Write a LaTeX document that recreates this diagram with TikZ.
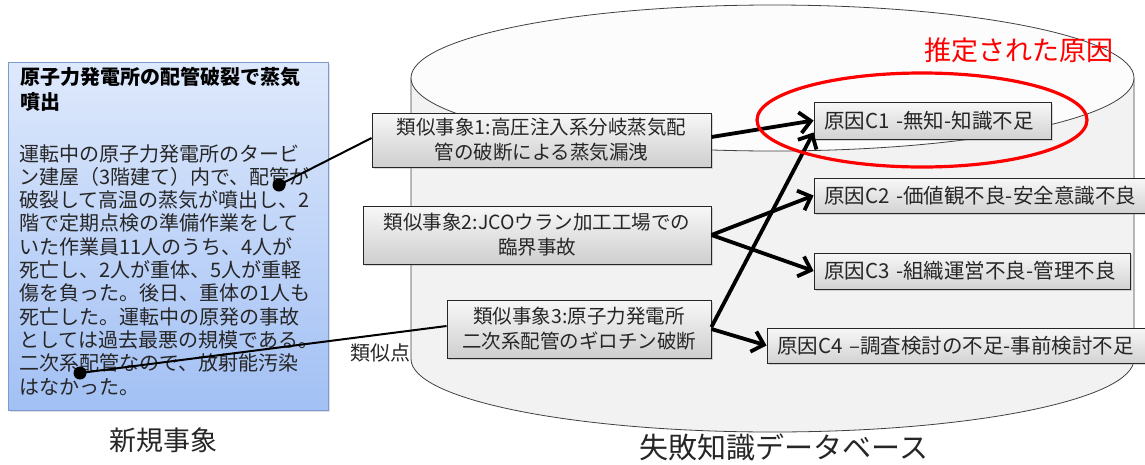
\documentclass[tikz,border=0pt]{standalone}
\usepackage{fontspec}
\setmainfont{Noto Sans CJK JP}
\usetikzlibrary{arrows.meta,shadows,calc}
\definecolor{txt}{HTML}{262626}
\definecolor{cylbody}{HTML}{F2F2F2}
\definecolor{cyltop}{HTML}{FCFCFC}
\definecolor{cylline}{HTML}{404040}
\definecolor{bluetop}{HTML}{DEE9FC}
\definecolor{bluebot}{HTML}{A2C0F4}
\definecolor{blueline}{HTML}{7C9CCF}
\begin{document}
\begin{tikzpicture}[x=1pt,y=-1pt,
  evtbox/.style={draw=black!85, line width=0.9pt, top color=gray!6, bottom color=gray!38,
    drop shadow={opacity=0.3, shadow xshift=2pt, shadow yshift=-2pt},
    align=center, inner sep=0pt, text=txt, font=\fontsize{19.5}{25}\selectfont},
  causebox/.style={draw=black!85, line width=0.9pt, top color=gray!6, bottom color=gray!35,
    drop shadow={opacity=0.3, shadow xshift=2pt, shadow yshift=-2pt},
    align=left, inner xsep=10pt, inner ysep=0pt, text=txt, font=\fontsize{20.5}{24}\selectfont},
  arr/.style={line width=3.8pt, -{Straight Barb[length=11pt,width=21pt]}},
  conn/.style={line width=2pt, black},
  dot/.style={fill=black}
]
\useasboundingbox (0,0) rectangle (1145,464);

% cylinder body
\fill[cylbody] (411,78) -- (411,359) arc[start angle=180,end angle=360,x radius=361.5pt,y radius=73pt] -- (1134,78) -- cycle;
\draw[cylline, line width=0.8pt] (411,78) -- (411,359) arc[start angle=180,end angle=360,x radius=361.5pt,y radius=73pt] -- (1134,78);
\draw[cylline, line width=0.8pt, fill=cyltop] (772.5,78) ellipse [x radius=361.5pt, y radius=73pt];

% new event box
\node[draw=blueline, line width=0.9pt, top color=bluetop, bottom color=bluebot,
  drop shadow={opacity=0.25, shadow xshift=2pt, shadow yshift=-2pt},
  minimum width=320pt, minimum height=348pt, inner sep=0pt] (nb) at (168,236) {};
\node[anchor=north west, align=left, inner sep=0pt, text=black,
  font=\fontsize{20}{25}\selectfont\bfseries] (nbt) at (20,67)
  {原子力発電所の配管破裂で蒸気\\噴出};
\node[anchor=north west, align=left, inner sep=0pt, text=txt,
  font=\fontsize{20}{23.3}\selectfont] (nbb) at (19,144)
  {運転中の原子力発電所のタービ\\
ン建屋（3階建て）内で、配管が\\
破裂して高温の蒸気が噴出し、2\\
階で定期点検の準備作業をして\\
いた作業員11人のうち、4人が\\
死亡し、2人が重体、5人が重軽\\
傷を負った。後日、重体の1人も\\
死亡した。運転中の原発の事故\\
としては過去最悪の規模である。\\
二次系配管なので、放射能汚染\\
はなかった。};

\node[text=txt, font=\fontsize{27}{30}\selectfont, inner sep=0pt] (lnew) at (163,440) {新規事象};
\node[text=txt, font=\fontsize{29}{32}\selectfont, inner sep=0pt] (ldb) at (784,447) {失敗知識データベース};
\node[text=txt, font=\fontsize{20}{24}\selectfont, inner sep=0pt] (lsim) at (380,353) {類似点};

% similar events
\node[evtbox, minimum width=339pt, minimum height=54pt] (e1) at (541.5,140) {類似事象1:高圧注入系分岐蒸気配\\管の破断による蒸気漏洩};
\node[evtbox, minimum width=348pt, minimum height=58pt] (e2) at (537,235) {類似事象2:JCOウラン加工工場での\\臨界事故};
\node[evtbox, minimum width=264pt, minimum height=58pt] (e3) at (579,329) {類似事象3:原子力発電所\\二次系配管のギロチン破断};

% causes
\node[causebox, text width=217pt, minimum height=37pt] (c1) at (932.5,120.5) {原因C1 -無知-知識不足};
\node[causebox, text width=316pt, minimum height=35pt] (c2) at (982,195.5) {原因C2 -価値観不良-安全意識不良};
\node[causebox, text width=296pt, minimum height=36pt] (c3) at (972,271) {原因C3 -組織運営不良-管理不良};
\node[causebox, text width=363pt, minimum height=35pt] (c4) at (958.5,345.5) {原因C4 –調査検討の不足-事前検討不足};

% arrows
\draw[arr] ($(e1.east)+(0,-3)$) -- (c1.west);
\draw[arr] ($(e3.east)+(0,-2)$) -- ($(c1.south west)+(0,-7)$);
\draw[arr] (e2.east) -- (c2.west);
\draw[arr] (e2.east) -- (c3.west);
\draw[arr] (e3.east) -- (c4.west);

% dots and connectors
\coordinate (d1) at (279,185);
\coordinate (d2) at (80,373);
\draw[conn] (d1) -- ($(e1.west)+(0,-2)$);
\draw[conn] (d2) -- ($(e3.west)+(0,-3)$);
\fill[dot] (d1) circle[radius=6.5pt];
\fill[dot] (d2) circle[radius=6.5pt];

% highlight
\draw[red, line width=3.2pt] (922,120) ellipse [x radius=165pt, y radius=47pt];
\node[text=red, font=\fontsize{27}{30}\selectfont, inner sep=0pt] (est) at (1019,50) {推定された原因};
\end{tikzpicture}
\end{document}
